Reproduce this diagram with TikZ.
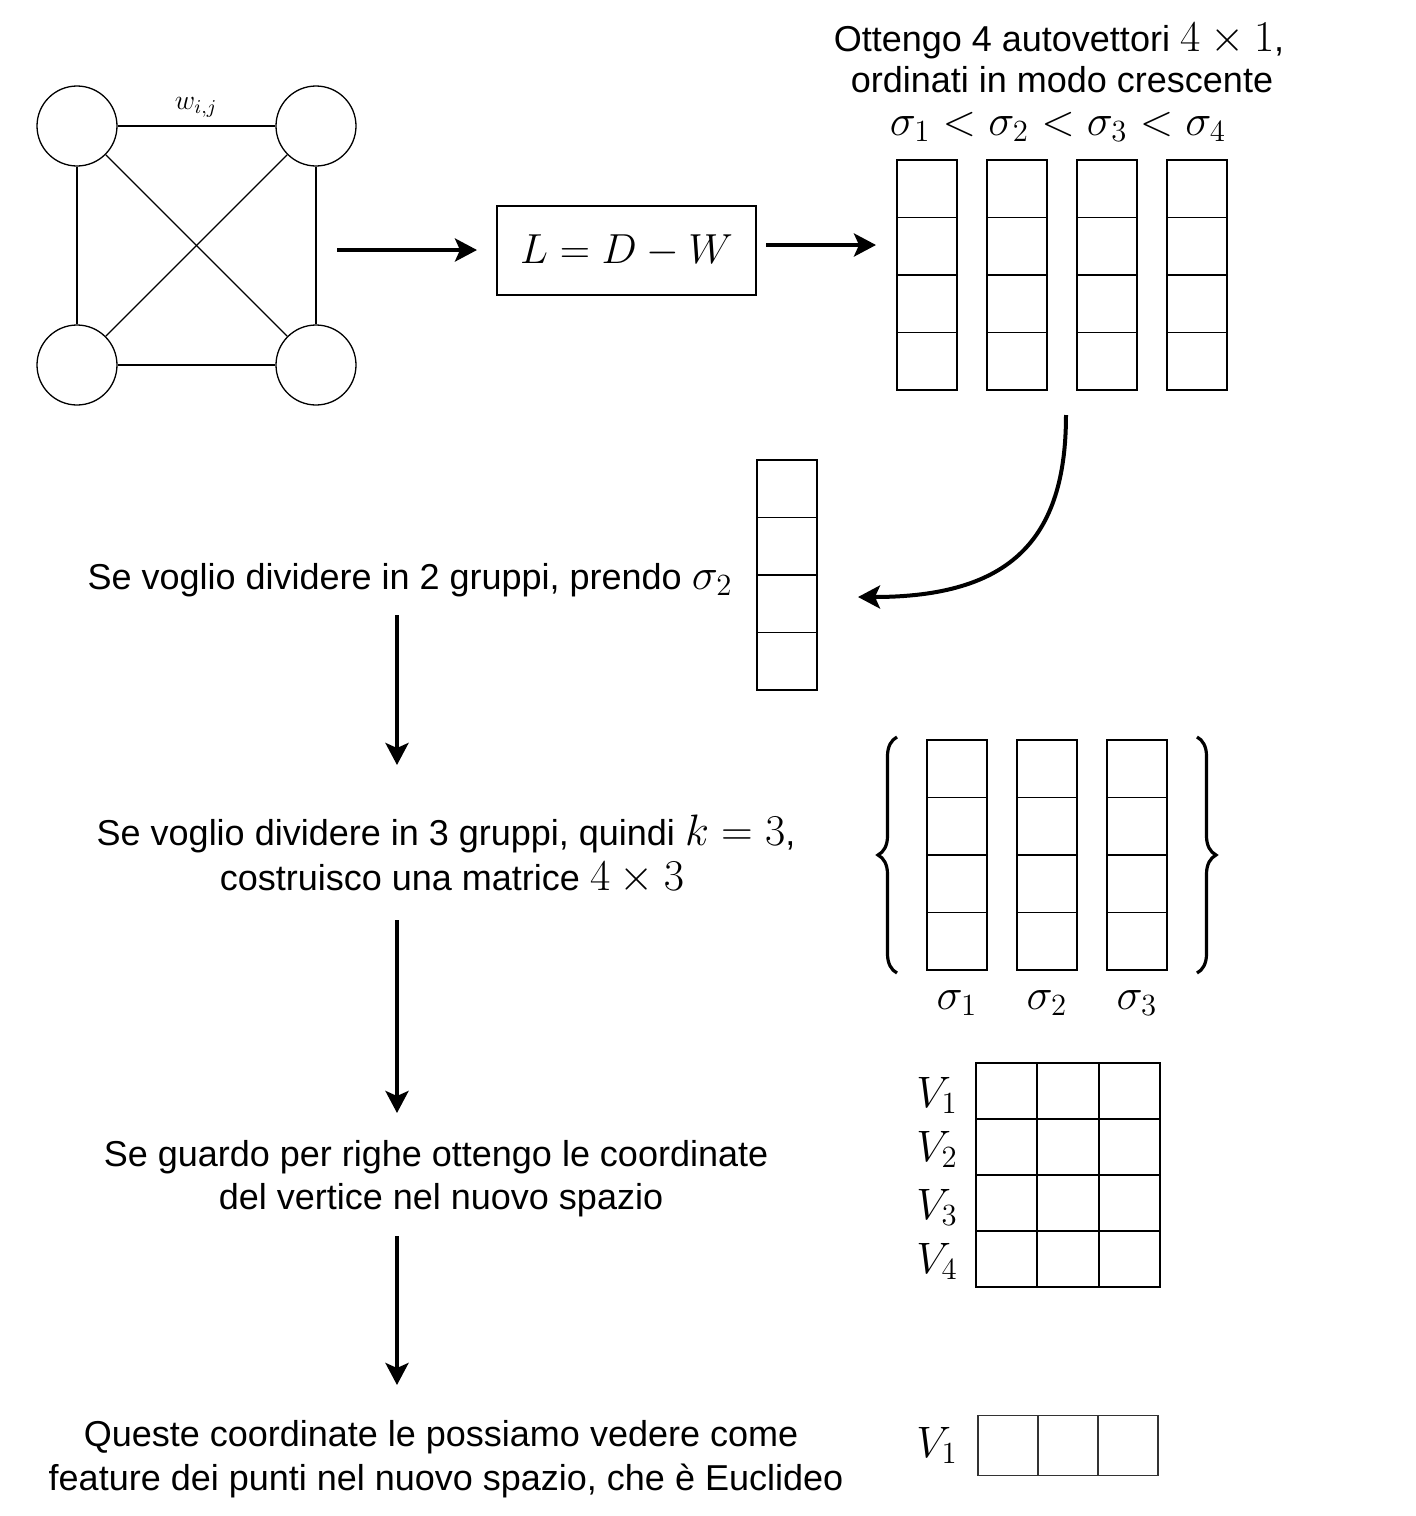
\RequirePackage{fix-cm}
\documentclass[tikz,border=0pt]{standalone}
\usepackage[no-math]{fontspec}
\newfontfamily\arialf{Liberation Sans}
\usetikzlibrary{arrows.meta,decorations.pathreplacing}
\newcommand\mth[1]{{\fontsize{22}{25}\selectfont$#1$}}
\tikzset{
  txt/.style={font=\arialf\fontsize{18}{21.6}\selectfont, inner sep=0pt, anchor=base},
  mlabel/.style={font=\fontsize{22}{25}\selectfont, inner sep=0pt},
  vnode/.style={circle, draw, minimum size=40pt, inner sep=0pt, line width=0.65pt},
  gedge/.style={line width=0.65pt},
  bigarrow/.style={line width=2pt, -{Stealth[length=11pt,width=11.5pt,inset=2.5pt]}},
  cell/.style={draw, rectangle, minimum width=30pt, minimum height=28.75pt, inner sep=0pt, line width=0.65pt},
  vcell/.style={draw, rectangle, minimum width=30.67pt, minimum height=28pt, inner sep=0pt, line width=1pt},
  rcell/.style={draw=black!80, rectangle, minimum width=30pt, minimum height=30pt, inner sep=0pt, line width=0.9pt},
  brc/.style={decorate, decoration={brace, amplitude=9.5pt}, line width=1.6pt},
}
\begin{document}
\begin{tikzpicture}[x=0.5pt,y=-0.5pt]
\useasboundingbox (0,0) rectangle (1415,1516);

% graph
\node[vnode] (n1) at (77,126) {};
\node[vnode] (n2) at (316,126) {};
\node[vnode] (n3) at (77,365) {};
\node[vnode] (n4) at (316,365) {};
\draw[gedge] (n1) -- (n2);
\draw[gedge] (n1) -- (n3);
\draw[gedge] (n2) -- (n4);
\draw[gedge] (n3) -- (n4);
\draw[gedge] (n1) -- (n4);
\draw[gedge] (n2) -- (n3);
\node[font=\fontsize{14}{16}\selectfont, inner sep=0pt] (w) at (196,107) {$w_{i,j}$};

% Laplacian box
\node[draw, line width=0.65pt, minimum width=129.5pt, minimum height=44.5pt, inner sep=0pt,
      font=\fontsize{21}{24}\selectfont] (lap) at (626.5,250.5) {$L = D - W$};

\coordinate (a1s) at (337,250);
\coordinate (a1e) at (477,250);
\draw[bigarrow] (a1s) -- (a1e);
\coordinate (a2s) at (766,245);
\coordinate (a2e) at (876,245);
\draw[bigarrow] (a2s) -- (a2e);

% top text
\node[txt] (top1) at (1059,51) {Ottengo 4 autovettori \mth{4\times 1},};
\node[txt] (top2) at (1062,92) {ordinati in modo crescente};
\node[txt] (top3) at (1058,135) {\mth{\sigma_1<\sigma_2<\sigma_3<\sigma_4}};

% four eigenvectors
\foreach \cx [count=\c] in {927,1017,1107,1197}
  \foreach \r in {1,...,4}
    \node[cell] (e\c-\r) at (\cx,{131.25+57.5*\r}) {};

% curved arrow
\coordinate (cs) at (1066,415);
\coordinate (ce) at (858,597);
\draw[bigarrow] (cs) .. controls (1066,540) and (1010,597) .. (ce);

% sigma2 column
\foreach \r in {1,...,4}
  \node[cell] (s\r) at (787,{431.25+57.5*\r}) {};
\node[txt] (t1) at (410,589) {Se voglio dividere in 2 gruppi, prendo \mth{\sigma_2}};

\coordinate (d1s) at (397,615);
\coordinate (d1e) at (397,765);
\draw[bigarrow] (d1s) -- (d1e);

\node[txt] (t2a) at (446,845) {Se voglio dividere in 3 gruppi, quindi \mth{k=3},};
\node[txt] (t2b) at (452,890) {costruisco una matrice \mth{4\times 3}};

% 4x3 matrix with braces
\foreach \cx [count=\c] in {957,1047,1137}
  \foreach \r in {1,...,4}
    \node[cell] (m\c-\r) at (\cx,{711.25+57.5*\r}) {};
\draw[brc] (897,973) -- (897,737);
\draw[brc] (1197,737) -- (1197,973);
\node[mlabel, anchor=base] (sg1) at (957,1009) {$\sigma_1$};
\node[mlabel, anchor=base] (sg2) at (1047,1009) {$\sigma_2$};
\node[mlabel, anchor=base] (sg3) at (1137,1009) {$\sigma_3$};

\coordinate (d2s) at (397,920);
\coordinate (d2e) at (397,1113);
\draw[bigarrow] (d2s) -- (d2e);

\node[txt] (t3a) at (436,1166) {Se guardo per righe ottengo le coordinate};
\node[txt] (t3b) at (441,1209) {del vertice nel nuovo spazio};

% V matrix
\foreach \cx [count=\c] in {1006.67,1068,1129.33}
  \foreach \r in {1,...,4}
    \node[vcell] (v\c-\r) at (\cx,{1035+56*\r}) {};
\node[mlabel, anchor=base east] (V1) at (958,1107) {$V_1$};
\node[mlabel, anchor=base east] (V2) at (958,1161) {$V_2$};
\node[mlabel, anchor=base east] (V3) at (958,1219) {$V_3$};
\node[mlabel, anchor=base east] (V4) at (958,1273) {$V_4$};

\coordinate (d3s) at (397,1236);
\coordinate (d3e) at (397,1385);
\draw[bigarrow] (d3s) -- (d3e);

\node[txt] (t4a) at (441,1446) {Queste coordinate le possiamo vedere come};
\node[txt] (t4b) at (446,1490) {feature dei punti nel nuovo spazio, che è Euclideo};

% single row
\foreach \cx [count=\c] in {1008,1068,1128}
  \node[rcell] (r\c) at (\cx,1445.5) {};
\node[mlabel, anchor=base east] (V1b) at (958,1457) {$V_1$};
\end{tikzpicture}
\end{document}
